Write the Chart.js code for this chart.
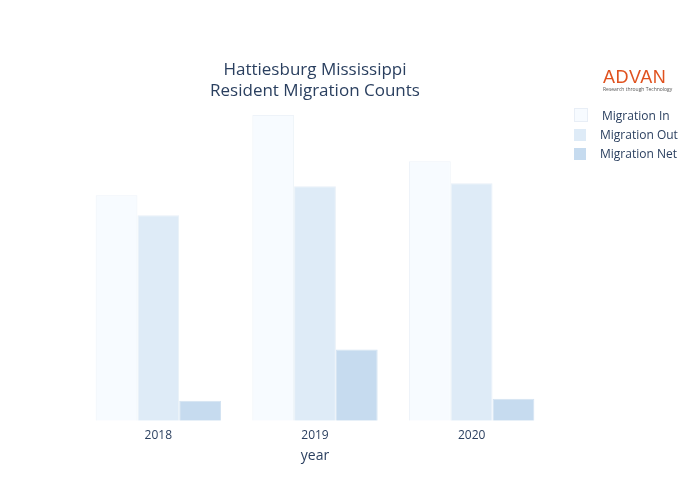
<!DOCTYPE html><html><head><script src="https://cdn.jsdelivr.net/npm/chart.js@4"></script>
<style>body{margin:0;font-family:"Open Sans",sans-serif;color:#2a3f5f}#w{position:relative;width:700px;height:500px;background:#fff}
.t{position:absolute;left:0;width:630px;text-align:center;top:58px;font-size:17px;line-height:21px}
.lg{position:absolute;left:574px;font-size:12px}.lg span{display:inline-block;width:12px;height:12px;margin-right:14px;vertical-align:-2px}
</style></head><body><div id="w"><canvas id="c" width="700" height="500"></canvas>
<div class="t">Hattiesburg Mississippi<br>Resident Migration Counts</div>
<div style="position:absolute;left:603px;top:67px;color:#e0521f;font:18px 'Liberation Sans',sans-serif;letter-spacing:0.5px">ADVAN</div>
<div style="position:absolute;left:603px;top:86px;color:#555;font-size:5px">Research through Technology</div>
<div class="lg" style="top:107px"><span style="background:#f7fbff;border:1px solid #e8eef6"></span>Migration In</div>
<div class="lg" style="top:126px"><span style="background:#deebf7"></span>Migration Out</div>
<div class="lg" style="top:145px"><span style="background:#c6dbef"></span>Migration Net</div>
</div>
<script>
const years=["2018","2019","2020"];
const migIn=[225,305,259];
const migOut=[205,234,237];
const migNet=[20,71,22];
new Chart(document.getElementById('c'),{type:'bar',data:{labels:years,datasets:[
{label:'Migration In',data:migIn,backgroundColor:'#f7fbff',borderColor:'#eef3f9',borderWidth:1},
{label:'Migration Out',data:migOut,backgroundColor:'#deebf7',borderColor:'#e8f0f8',borderWidth:1},
{label:'Migration Net',data:migNet,backgroundColor:'#c6dbef',borderColor:'#d3e3f2',borderWidth:1}]},
options:{responsive:false,animation:false,layout:{padding:{left:80,right:150,top:100,bottom:36}},
datasets:{bar:{categoryPercentage:0.8,barPercentage:1}},
plugins:{legend:{display:false},tooltip:{enabled:false}},
scales:{y:{display:false,min:0,max:320},x:{grid:{display:false},border:{display:false},
ticks:{padding:0,color:'#2a3f5f',font:{family:'Open Sans',size:12}},title:{display:true,padding:{top:4,bottom:0},text:'year',color:'#2a3f5f',font:{family:'Open Sans',size:14}}}}}});
</script></body></html>
